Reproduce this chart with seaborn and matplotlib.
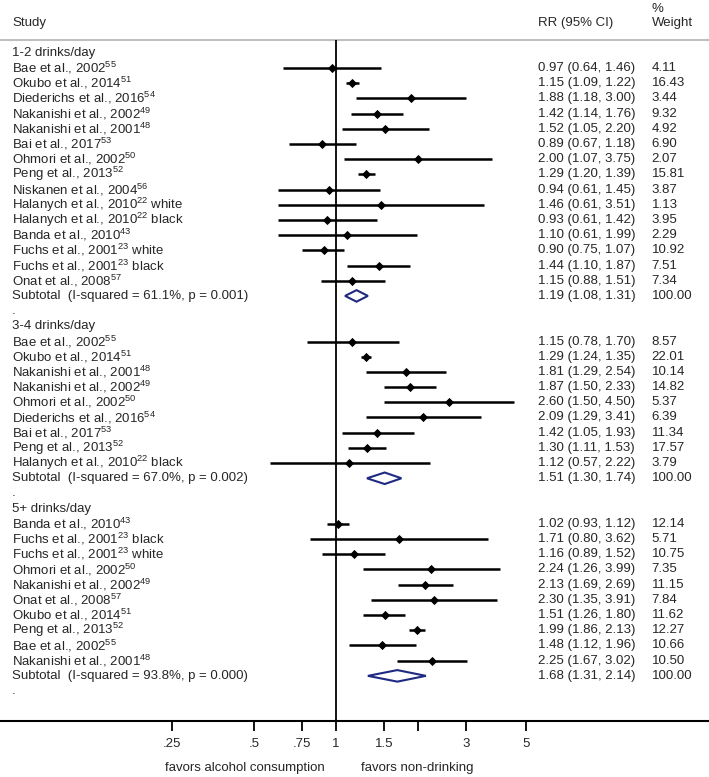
import numpy as np
import pandas as pd
import matplotlib.pyplot as plt
import seaborn as sns
from matplotlib.patches import Polygon

sns.set_style("white")
plt.rcParams['font.family'] = ['Liberation Sans', 'DejaVu Sans']
plt.rcParams['mathtext.fontset'] = 'custom'
plt.rcParams['mathtext.rm'] = 'Liberation Sans'
plt.rcParams['mathtext.it'] = 'Liberation Sans:italic'

# ---- data ----
groups = ['1-2 drinks/day', '3-4 drinks/day', '5+ drinks/day']

study_12 = ['Bae et al., 2002$^{55}$', 'Okubo et al., 2014$^{51}$', 'Diederichs et al., 2016$^{54}$',
            'Nakanishi et al., 2002$^{49}$', 'Nakanishi et al., 2001$^{48}$', 'Bai et al., 2017$^{53}$',
            'Ohmori et al., 2002$^{50}$', 'Peng et al., 2013$^{52}$', 'Niskanen et al., 2004$^{56}$',
            'Halanych et al., 2010$^{22}$ white', 'Halanych et al., 2010$^{22}$ black',
            'Banda et al., 2010$^{43}$', 'Fuchs et al., 2001$^{23}$ white',
            'Fuchs et al., 2001$^{23}$ black', 'Onat et al., 2008$^{57}$']
rr_12 = [0.97, 1.15, 1.88, 1.42, 1.52, 0.89, 2.00, 1.29, 0.94, 1.46, 0.93, 1.10, 0.90, 1.44, 1.15]
lo_12 = [0.64, 1.09, 1.18, 1.14, 1.05, 0.67, 1.07, 1.20, 0.61, 0.61, 0.61, 0.61, 0.75, 1.10, 0.88]
hi_12 = [1.46, 1.22, 3.00, 1.76, 2.20, 1.18, 3.75, 1.39, 1.45, 3.51, 1.42, 1.99, 1.07, 1.87, 1.51]
wt_12 = [4.11, 16.43, 3.44, 9.32, 4.92, 6.90, 2.07, 15.81, 3.87, 1.13, 3.95, 2.29, 10.92, 7.51, 7.34]

study_34 = ['Bae et al., 2002$^{55}$', 'Okubo et al., 2014$^{51}$', 'Nakanishi et al., 2001$^{48}$',
            'Nakanishi et al., 2002$^{49}$', 'Ohmori et al., 2002$^{50}$', 'Diederichs et al., 2016$^{54}$',
            'Bai et al., 2017$^{53}$', 'Peng et al., 2013$^{52}$', 'Halanych et al., 2010$^{22}$ black']
rr_34 = [1.15, 1.29, 1.81, 1.87, 2.60, 2.09, 1.42, 1.30, 1.12]
lo_34 = [0.78, 1.24, 1.29, 1.50, 1.50, 1.29, 1.05, 1.11, 0.57]
hi_34 = [1.70, 1.35, 2.54, 2.33, 4.50, 3.41, 1.93, 1.53, 2.22]
wt_34 = [8.57, 22.01, 10.14, 14.82, 5.37, 6.39, 11.34, 17.57, 3.79]

study_5 = ['Banda et al., 2010$^{43}$', 'Fuchs et al., 2001$^{23}$ black', 'Fuchs et al., 2001$^{23}$ white',
           'Ohmori et al., 2002$^{50}$', 'Nakanishi et al., 2002$^{49}$', 'Onat et al., 2008$^{57}$',
           'Okubo et al., 2014$^{51}$', 'Peng et al., 2013$^{52}$', 'Bae et al., 2002$^{55}$',
           'Nakanishi et al., 2001$^{48}$']
rr_5 = [1.02, 1.71, 1.16, 2.24, 2.13, 2.30, 1.51, 1.99, 1.48, 2.25]
lo_5 = [0.93, 0.80, 0.89, 1.26, 1.69, 1.35, 1.26, 1.86, 1.12, 1.67]
hi_5 = [1.12, 3.62, 1.52, 3.99, 2.69, 3.91, 1.80, 2.13, 1.96, 3.02]
wt_5 = [12.14, 5.71, 10.75, 7.35, 11.15, 7.84, 11.62, 12.27, 10.66, 10.50]

sub_i2 = ['61.1%', '67.0%', '93.8%']
sub_p = ['0.001', '0.002', '0.000']
sub_rr = [1.19, 1.51, 1.68]
sub_lo = [1.08, 1.30, 1.31]
sub_hi = [1.31, 1.74, 2.14]

xticks = [0.25, 0.5, 0.75, 1, 1.5, 2, 3, 5]
xticklabels = ['.25', '.5', '.75', '1', '1.5', '', '3', '5']

# ---- build the row table ----
rows = []
studies = [(study_12, rr_12, lo_12, hi_12, wt_12),
           (study_34, rr_34, lo_34, hi_34, wt_34),
           (study_5, rr_5, lo_5, hi_5, wt_5)]
for g, (names, rr, lo, hi, wt) in enumerate(studies):
    rows.append(dict(kind='group', label=groups[g]))
    for n, r, l, h, w in zip(names, rr, lo, hi, wt):
        rows.append(dict(kind='study', label=n, rr=r, lo=l, hi=h, wt=w))
    rows.append(dict(kind='sub', label=f'Subtotal  (I-squared = {sub_i2[g]}, p = {sub_p[g]})',
                     rr=sub_rr[g], lo=sub_lo[g], hi=sub_hi[g], wt=100.0))
    rows.append(dict(kind='gap', label='.'))
df = pd.DataFrame(rows)
df['y'] = np.arange(len(df))

# ---- figure ----
fig = plt.figure(figsize=(7.09, 7.77), dpi=100)
ax = fig.add_axes([0, 56 / 777, 1, 721 / 777])
ax.set_xscale('log')
ax.set_xlim(0.0583, 23.47)
ax.set_ylim(43.97, -3.47)

fs = 9.5
navy = '#1e2a82'
trans = ax.get_yaxis_transform()

# header
ax.text(0.017, -1.97, 'Study', transform=trans, fontsize=fs, va='center')
ax.text(0.759, -1.97, 'RR (95% CI)', transform=trans, fontsize=fs, va='center')
ax.text(0.919, -1.97, 'Weight', transform=trans, fontsize=fs, va='center')
ax.text(0.919, -2.88, '%', transform=trans, fontsize=fs, va='center')
ax.axhline(-0.84, color='#bfbfbf', lw=1.5)

# null line
ax.vlines(1, -0.84, 43.97, color='black', lw=1.3)

# study rows
st = df[df['kind'] == 'study']
ax.hlines(st['y'], st['lo'], st['hi'], color='black', lw=1.8)
sns.scatterplot(data=st, x='rr', y='y', marker='D', s=22, color='black',
                edgecolor='black', linewidth=0, ax=ax, legend=False, zorder=3)

# subtotal diamonds
sb = df[df['kind'] == 'sub']
for _, r in sb.iterrows():
    pts = [(r['lo'], r['y']), (r['rr'], r['y'] - 0.38), (r['hi'], r['y']), (r['rr'], r['y'] + 0.38)]
    ax.add_patch(Polygon(pts, closed=True, fill=False, edgecolor=navy, lw=1.5, zorder=3))

# text columns
for _, r in df.iterrows():
    ax.text(0.017, r['y'], r['label'], transform=trans, fontsize=fs, va='center')
    if r['kind'] in ('study', 'sub'):
        ax.text(0.759, r['y'], f"{r['rr']:.2f} ({r['lo']:.2f}, {r['hi']:.2f})",
                transform=trans, fontsize=fs, va='center')
        ax.text(0.919, r['y'], f"{r['wt']:.2f}", transform=trans, fontsize=fs, va='center')

# axis styling
for s in ['top', 'left', 'right']:
    ax.spines[s].set_visible(False)
ax.spines['bottom'].set_color('black')
ax.spines['bottom'].set_linewidth(1.5)
ax.set_yticks([])
ax.set_xticks(xticks)
ax.set_xticklabels(xticklabels, fontsize=fs)
ax.xaxis.set_minor_locator(plt.NullLocator())
ax.tick_params(axis='x', direction='out', length=7.5, width=1.3, pad=5, bottom=True, color='black')
ax.set_xlabel('')
ax.set_ylabel('')

fig.text(244.5 / 709, 1 - 768 / 777, 'favors alcohol consumption', ha='center', va='center', fontsize=fs)
fig.text(417 / 709, 1 - 768 / 777, 'favors non-drinking', ha='center', va='center', fontsize=fs)

fig.savefig('out.png', dpi=100)
